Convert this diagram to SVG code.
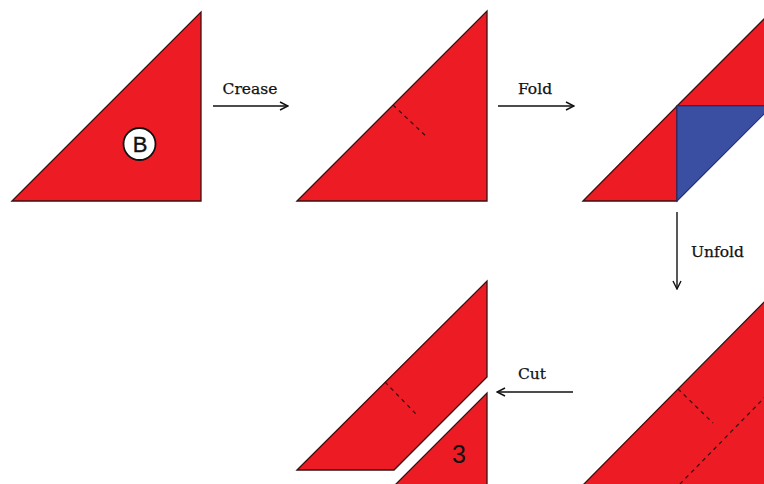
<svg xmlns="http://www.w3.org/2000/svg" width="764" height="484" viewBox="0 0 764 484">
<defs>
<style>
.red{fill:#ED1C24;stroke:#3a1010;stroke-width:1.3;stroke-linejoin:miter}
.blue{fill:#3A4FA2;stroke:#26307a;stroke-width:1.2}
.crease{stroke:#3a1010;stroke-width:1.3;stroke-dasharray:4 4;fill:none}
.conn{stroke:#111;stroke-width:1.4;fill:none;marker-end:url(#arr)}
.lbl{font-family:"DejaVu Serif",serif;font-size:15.5px;fill:#111;stroke:#111;stroke-width:0.25}
</style>
<marker id="arr" viewBox="0 0 10 10" refX="9" refY="5" markerWidth="10" markerHeight="10" markerUnits="userSpaceOnUse" orient="auto">
<path d="M1,1 L9,5 L1,9" fill="none" stroke="#111" stroke-width="1.4"/>
</marker>
</defs>
<rect width="764" height="484" fill="#fff"/>

<g id="step1">
<polygon class="red" points="12,201 201,12 201,201"/>
<circle cx="139.5" cy="144" r="16" fill="#fff" stroke="#111" stroke-width="1.8"/>
<text x="140" y="152" text-anchor="middle" font-family="Liberation Sans, Arial, sans-serif" font-size="22" fill="#111" stroke="#111" stroke-width="0.4">B</text>
</g>

<g id="step2">
<polygon class="red" points="297,201 487,11 487,201"/>
<line class="crease" x1="393" y1="105" x2="427" y2="137"/>
</g>

<g id="step3">
<polygon class="red" points="583,201 677,106 677,201"/>
<polygon class="red" points="677,106 772,11 772,106"/>
<polygon class="blue" points="677,106 772,106 677,201"/>
</g>

<g id="step4">
<polygon class="red" points="297,470 487,281 487,377 394,470"/>
<line class="crease" x1="385" y1="382" x2="417" y2="415"/>
<polygon class="red" points="487,393 487,492 388,492"/>
<text x="459" y="463" text-anchor="middle" font-family="Liberation Sans, Arial, sans-serif" font-size="25" fill="#111">3</text>
</g>

<g id="step5">
<polygon class="red" points="583,485 770,296 800,296 800,495 575,495"/>
<line class="crease" x1="678" y1="389" x2="713" y2="423"/>
<line class="crease" x1="680" y1="484" x2="766" y2="396"/>
</g>

<g id="connectors">
<line class="conn" x1="213" y1="106" x2="288" y2="106"/>
<text class="lbl" x="250" y="94" text-anchor="middle">Crease</text>
<line class="conn" x1="498" y1="106" x2="574" y2="106"/>
<text class="lbl" x="535" y="94" text-anchor="middle">Fold</text>
<line class="conn" x1="677" y1="212" x2="677" y2="289"/>
<text class="lbl" x="691" y="257">Unfold</text>
<line class="conn" x1="573" y1="392" x2="497" y2="392"/>
<text class="lbl" x="532" y="379" text-anchor="middle">Cut</text>
</g>
</svg>
